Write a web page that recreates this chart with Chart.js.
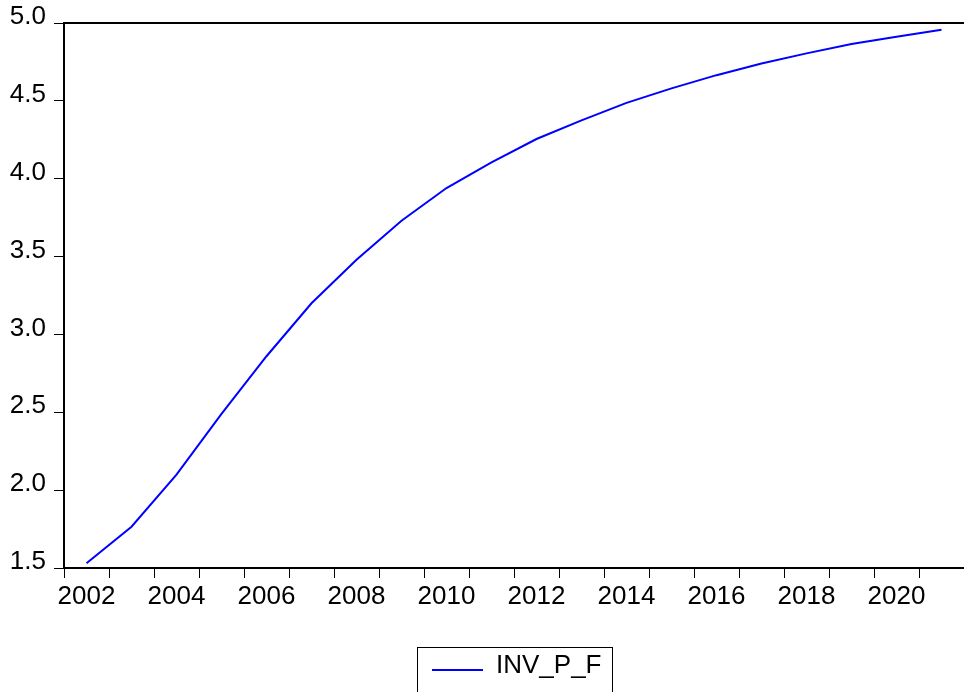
<!DOCTYPE html>
<html>
<head>
<meta charset="utf-8">
<script src="https://cdn.jsdelivr.net/npm/chart.js@4/dist/chart.umd.min.js"></script>
<style>
  html, body { margin: 0; padding: 0; background: #fff; }
  #wrap { width: 964px; height: 692px; }
</style>
</head>
<body>
<div id="wrap"><canvas id="chart" width="964" height="692"></canvas></div>
<script>
// Daten (Jahreswerte, Punkt in der Jahresmitte)
const years = [2002, 2003, 2004, 2005, 2006, 2007, 2008, 2009, 2010, 2011,
               2012, 2013, 2014, 2015, 2016, 2017, 2018, 2019, 2020, 2021];
const invPF = [1.53, 1.765, 2.10, 2.49, 2.86, 3.20, 3.48, 3.73, 3.94, 4.105,
               4.255, 4.375, 4.487, 4.58, 4.665, 4.74, 4.805, 4.865, 4.912, 4.957];
const seriesName = 'INV_P_F';
const yTicks = [1.5, 2.0, 2.5, 3.0, 3.5, 4.0, 4.5, 5.0];

const FONT = { family: '"Liberation Sans", Arial, sans-serif', size: 26 };

// Rahmen oben + Legende (EViews-Stil)
const framePlugin = {
    id: 'frame',
    afterDraw(chart) {
        const { ctx, chartArea } = chart;
        ctx.save();
        ctx.strokeStyle = '#000';
        ctx.lineWidth = 2;
        ctx.beginPath();
        ctx.moveTo(chartArea.left, chartArea.top);
        ctx.lineTo(chart.width, chartArea.top);
        ctx.stroke();

        // Legende unten
        ctx.font = FONT.size + 'px ' + FONT.family;
        ctx.lineWidth = 1;
        ctx.strokeRect(417.5, 647.5, 195, 50);
        ctx.strokeStyle = '#0000ff';
        ctx.lineWidth = 2;
        ctx.beginPath();
        ctx.moveTo(432, 670);
        ctx.lineTo(483, 670);
        ctx.stroke();
        ctx.fillStyle = '#000';
        ctx.textBaseline = 'middle';
        ctx.fillText(seriesName, 496, 666);
        ctx.restore();
    }
};

const ctx = document.getElementById('chart').getContext('2d');
const chart = new Chart(ctx, {
    type: 'line',
    data: {
        datasets: [{
            label: seriesName,
            data: years.map((y, i) => ({ x: y + 0.5, y: invPF[i] })),
            borderColor: '#0000ff',
            borderWidth: 2,
            pointRadius: 0,
            tension: 0,
            fill: false
        }]
    },
    options: {
        animation: false,
        responsive: false,
        layout: { padding: { top: 23, right: 0, left: 0, bottom: 0 } },
        plugins: { legend: { display: false }, tooltip: { enabled: false } },
        scales: {
            x: {
                type: 'linear',
                min: 2002,
                max: 2022,
                afterFit: (s) => { s.height = 124; s.paddingLeft = 0; s.paddingRight = 0; },
                border: { display: true, color: '#000', width: 2 },
                grid: { drawOnChartArea: false, tickLength: 10, color: '#000', tickColor: '#000', tickWidth: 1 },
                ticks: {
                    stepSize: 1,
                    autoSkip: false,
                    maxRotation: 0,
                    color: '#000',
                    font: FONT,
                    padding: 3,
                    labelOffset: 22.5,
                    callback: (v) => (v % 2 === 0 && v < 2022) ? String(v) : ''
                }
            },
            y: {
                min: 1.5,
                max: 5.0,
                afterFit: (s) => { s.width = 64; s.paddingTop = 0; s.paddingBottom = 0; },
                afterBuildTicks: (s) => { s.ticks = yTicks.map(v => ({ value: v })); },
                border: { display: true, color: '#000', width: 2 },
                grid: { drawOnChartArea: false, tickLength: 10, color: '#000', tickColor: '#000', tickWidth: 1 },
                ticks: {
                    color: '#000',
                    font: FONT,
                    padding: 8,
                    labelOffset: -6,
                    callback: (v) => v.toFixed(1)
                }
            }
        }
    },
    plugins: [framePlugin]
});
</script>
</body>
</html>
